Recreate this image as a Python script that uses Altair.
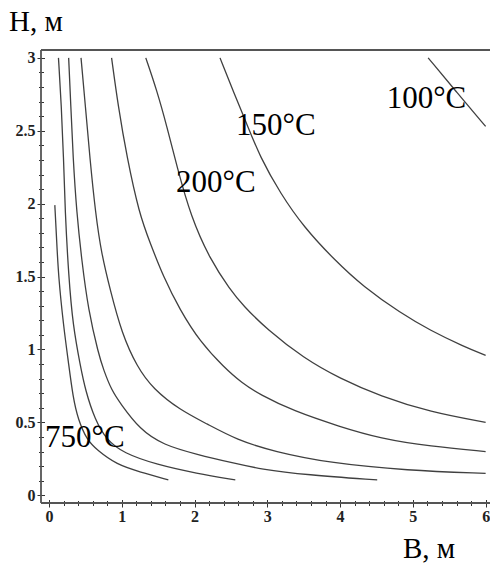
import altair as alt
import pandas as pd

# Isotherm traces: width B (m) vs height H (m) for each temperature
t750_B = [0.08, 0.105, 0.13, 0.20, 0.265, 0.33, 0.40, 0.52, 0.66, 0.93, 1.25, 1.64]
t750_H = [1.99, 1.75, 1.50, 1.16, 0.92, 0.67, 0.52, 0.38, 0.31, 0.21, 0.16, 0.105]

t500_B = [0.13, 0.17, 0.20, 0.22, 0.27, 0.33, 0.43, 0.50, 0.63, 0.79, 1.02, 1.48, 2.03, 2.56]
t500_H = [3.0, 2.67, 2.32, 1.96, 1.50, 1.16, 0.89, 0.72, 0.52, 0.38, 0.29, 0.21, 0.15, 0.105]

t400_B = [0.27, 0.30, 0.33, 0.38, 0.45, 0.54, 0.68, 0.75, 0.86, 0.98, 1.25, 1.57, 2.03, 2.54, 2.90, 3.54, 4.51]
t400_H = [3.0, 2.67, 2.32, 1.94, 1.61, 1.27, 0.97, 0.86, 0.72, 0.63, 0.45, 0.345, 0.28, 0.22, 0.18, 0.14, 0.105]

t300_B = [0.44, 0.50, 0.56, 0.64, 0.72, 0.84, 1.00, 1.21, 1.43, 1.80, 2.17, 2.58, 3.09, 3.87, 4.92, 6.0]
t300_H = [3.0, 2.67, 2.32, 1.93, 1.66, 1.41, 1.11, 0.88, 0.73, 0.585, 0.49, 0.38, 0.30, 0.22, 0.17, 0.15]

t250_B = [0.86, 0.95, 1.07, 1.24, 1.39, 1.57, 1.80, 2.08, 2.40, 2.65, 2.90, 3.35, 4.0, 4.55, 5.24, 6.0]
t250_H = [3.0, 2.67, 2.32, 1.93, 1.73, 1.50, 1.27, 1.05, 0.88, 0.77, 0.69, 0.58, 0.47, 0.39, 0.335, 0.30]

t200_B = [1.33, 1.48, 1.62, 1.76, 1.95, 2.21, 2.49, 2.67, 2.99, 3.50, 4.0, 4.55, 5.24, 6.0]
t200_H = [3.0, 2.78, 2.53, 2.25, 1.91, 1.62, 1.41, 1.30, 1.14, 0.94, 0.80, 0.68, 0.57, 0.50]

t150_B = [2.35, 2.54, 2.72, 2.90, 3.18, 3.50, 3.93, 4.32, 4.83, 5.24, 5.70, 6.0]
t150_H = [3.0, 2.76, 2.545, 2.32, 2.07, 1.84, 1.61, 1.43, 1.25, 1.13, 1.02, 0.96]

t100_B = [5.21, 5.61, 6.0]
t100_H = [3.0, 2.76, 2.53]

series = {
    750: (t750_B, t750_H), 500: (t500_B, t500_H), 400: (t400_B, t400_H),
    300: (t300_B, t300_H), 250: (t250_B, t250_H), 200: (t200_B, t200_H),
    150: (t150_B, t150_H), 100: (t100_B, t100_H),
}

# Curve labels: text and anchor (left edge, baseline) in data units
label_text = ["100°C", "150°C", "200°C", "750°C"]
label_B = [4.64, 2.57, 1.745, -0.055]
label_H = [2.655, 2.470, 2.080, 0.330]

x_major = [0, 1, 2, 3, 4, 5, 6]
x_minor = [0.2, 0.4, 0.6, 0.8, 1.2, 1.4, 1.6, 1.8, 2.2, 2.4, 2.6, 2.8,
           3.2, 3.4, 3.6, 3.8, 4.2, 4.4, 4.6, 4.8, 5.2, 5.4, 5.6, 5.8]
y_major = [0, 0.5, 1, 1.5, 2, 2.5, 3]
y_minor = [0.1, 0.2, 0.3, 0.4, 0.6, 0.7, 0.8, 0.9, 1.1, 1.2, 1.3, 1.4,
           1.6, 1.7, 1.8, 1.9, 2.1, 2.2, 2.3, 2.4, 2.6, 2.7, 2.8, 2.9]

rows = []
for temp, (bs, hs) in series.items():
    for i, (b, h) in enumerate(zip(bs, hs)):
        rows.append({"T": temp, "i": i, "B": b, "H": h})
df = pd.DataFrame(rows)
labels_df = pd.DataFrame({"label": label_text, "B": label_B, "H": label_H})

W, H = 449, 453
FONT = "Liberation Serif"
xs = alt.Scale(domain=[-0.11, 6.06], nice=False, zero=False)
ys = alt.Scale(domain=[-0.053, 3.054], nice=False, zero=False)

tick_style = dict(domain=False, grid=False, tickColor="#333", tickWidth=1,
                  labelFont=FONT, labelFontWeight="bold", labelFontSize=16,
                  labelColor="#222", labelFlush=False, labelOverlap=False, title=None)

ax_x_major = alt.Axis(orient="bottom", values=x_major, format="d", tickSize=7.5,
                      offset=-3.5, labelPadding=1, **tick_style)
ax_y_major = alt.Axis(orient="left", values=y_major, format="~g", tickSize=7.5,
                      offset=-3.5, labelPadding=2, **tick_style)
ax_x_minor = alt.Axis(orient="bottom", values=x_minor, labels=False, tickSize=5,
                      offset=-2.5, **tick_style)
ax_y_minor = alt.Axis(orient="left", values=y_minor, labels=False, tickSize=5,
                      offset=-2.5, **tick_style)

minor = alt.Chart(df).mark_line(opacity=0).encode(
    x=alt.X("B:Q", scale=xs, axis=ax_x_minor),
    y=alt.Y("H:Q", scale=ys, axis=ax_y_minor),
    detail="T:N",
)

curves = alt.Chart(df).mark_line(
    color="#404040", strokeWidth=1.3, interpolate="basis", clip=True
).encode(
    x=alt.X("B:Q", scale=xs, axis=ax_x_major),
    y=alt.Y("H:Q", scale=ys, axis=ax_y_major),
    detail="T:N",
    order="i:Q",
)

curve_labels = alt.Chart(labels_df).mark_text(
    font=FONT, fontSize=31, align="left", baseline="alphabetic", color="black"
).encode(
    x=alt.X("B:Q", scale=xs, axis=None),
    y=alt.Y("H:Q", scale=ys, axis=None),
    text="label:N",
)

one = pd.DataFrame({"k": [0]})
frame_style = dict(color="#555", strokeWidth=1.8)
frame_top = alt.Chart(one).mark_rule(**frame_style).encode(
    x=alt.value(0), x2=alt.value(W), y=alt.value(0))
frame_left = alt.Chart(one).mark_rule(**frame_style).encode(
    x=alt.value(0), y=alt.value(0), y2=alt.value(H))
frame_bottom = alt.Chart(one).mark_rule(**frame_style).encode(
    x=alt.value(0), x2=alt.value(W), y=alt.value(H))

title_h = alt.Chart(one).mark_text(
    font=FONT, fontSize=29, align="left", baseline="alphabetic", color="black"
).encode(x=alt.value(-32), y=alt.value(-19), text=alt.value("H, м"))
title_b = alt.Chart(one).mark_text(
    font=FONT, fontSize=29, align="left", baseline="alphabetic", color="black"
).encode(x=alt.value(362), y=alt.value(508), text=alt.value("B, м"))

chart = alt.layer(
    minor, curves, curve_labels, frame_top, frame_left, frame_bottom, title_h, title_b
).resolve_axis(
    x="independent", y="independent"
).properties(
    width=W, height=H, autosize="none",
    padding={"left": 41, "top": 50, "right": 0, "bottom": 62},
    background="white",
).configure_view(stroke=None)

chart.save("out.html", embed_options={"renderer": "svg", "actions": False})
